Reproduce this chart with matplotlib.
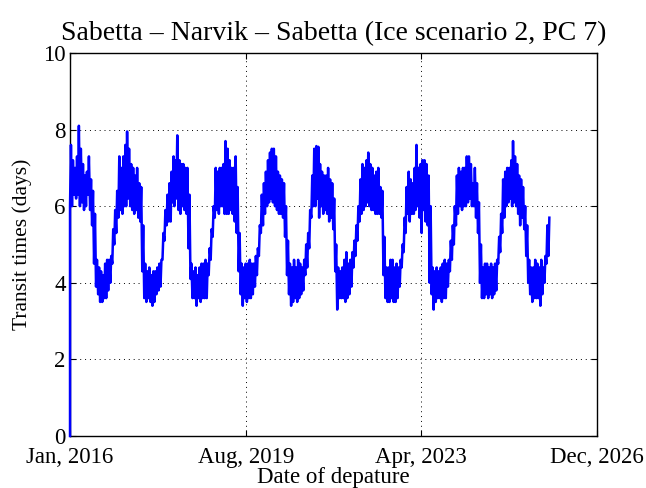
import matplotlib
matplotlib.use("Agg")
import matplotlib.pyplot as plt
import numpy as np

# half-monthly band of the daily transit times
# (lower edge, upper edge), starting on the 1st and 16th of each month
lo_2016 = [6.0, 6.0, 6.3, 6.2, 6.3, 6.0, 6.1, 5.9, 6.0, 6.3, 5.9, 5.5,
           4.5, 3.9, 3.7, 3.5, 3.5, 3.6, 3.6, 3.8, 4.0, 4.5, 5.0, 5.3]
hi_2016 = [7.6, 7.2, 7.0, 7.3, 8.1, 7.5, 7.1, 6.8, 6.9, 7.3, 6.7, 6.4,
           5.8, 4.6, 4.4, 4.3, 4.2, 4.5, 4.6, 4.6, 4.7, 5.4, 5.9, 6.4]
lo_2017 = [5.7, 5.9, 5.8, 6.0, 6.0, 6.2, 6.0, 5.9, 5.8, 5.9, 5.7, 5.6,
           4.3, 3.6, 3.5, 3.6, 3.5, 3.4, 3.5, 3.7, 3.8, 3.9, 4.6, 5.1]
hi_2017 = [7.3, 7.0, 7.3, 7.6, 7.95, 7.5, 7.1, 7.0, 6.8, 7.0, 6.6, 6.5,
           5.5, 4.5, 4.3, 4.4, 4.2, 4.3, 4.3, 4.4, 4.5, 4.6, 5.3, 5.9]
lo_2018 = [5.5, 5.6, 5.6, 6.1, 6.0, 6.2, 5.9, 5.8, 6.0, 5.9, 5.8, 4.9,
           4.1, 3.6, 3.6, 3.4, 3.6, 3.5, 3.6, 3.6, 3.6, 4.2, 4.6, 5.2]
hi_2018 = [6.3, 6.6, 6.9, 7.3, 7.2, 7.85, 7.2, 7.1, 7.1, 7.0, 7.0, 6.3,
           4.5, 4.3, 4.4, 4.2, 4.4, 4.5, 4.5, 4.6, 4.5, 4.9, 5.4, 6.0]
lo_2019 = [5.7, 5.9, 5.8, 6.0, 6.0, 5.8, 5.8, 5.8, 5.9, 5.8, 5.6, 5.3,
           4.3, 3.7, 3.4, 3.6, 3.5, 3.6, 3.6, 3.7, 3.9, 4.2, 4.7, 5.3]
hi_2019 = [7.0, 6.9, 7.0, 7.0, 7.1, 7.7, 7.5, 7.2, 7.0, 7.0, 7.3, 6.5,
           5.3, 4.5, 4.4, 4.5, 4.5, 4.6, 4.5, 4.5, 4.7, 4.9, 5.5, 6.3]
lo_2020 = [5.5, 5.8, 6.0, 6.1, 6.2, 6.1, 6.0, 5.9, 5.8, 5.8, 5.7, 5.2,
           4.2, 3.7, 3.4, 3.5, 3.6, 3.5, 3.6, 3.7, 3.8, 4.2, 4.4, 4.9]
hi_2020 = [6.6, 6.9, 7.2, 7.4, 7.5, 7.5, 7.3, 6.9, 6.8, 6.7, 6.6, 6.0,
           5.1, 4.5, 4.4, 4.6, 4.4, 4.6, 4.5, 4.4, 4.6, 5.0, 5.3, 5.9]
lo_2021 = [5.7, 6.0, 6.0, 6.2, 5.7, 6.0, 5.8, 5.9, 5.8, 5.6, 5.7, 5.4,
           4.3, 3.3, 3.6, 3.6, 3.6, 3.5, 3.6, 3.7, 3.9, 4.4, 4.7, 5.1]
hi_2021 = [6.8, 7.5, 7.57, 7.55, 7.1, 6.9, 6.8, 6.8, 7.0, 6.7, 6.6, 6.2,
           5.0, 4.4, 4.3, 4.4, 4.6, 4.8, 4.5, 4.6, 4.8, 5.1, 5.5, 6.0]
lo_2022 = [5.6, 5.8, 5.9, 6.0, 6.1, 6.0, 5.9, 5.9, 5.8, 5.8, 5.8, 5.7,
           4.2, 3.6, 3.5, 3.5, 3.6, 3.5, 3.5, 3.6, 3.9, 4.4, 4.8, 5.3]
hi_2022 = [6.7, 7.1, 7.0, 7.2, 7.4, 7.1, 7.0, 6.8, 6.9, 7.0, 6.5, 6.4,
           5.2, 4.4, 4.4, 4.6, 4.6, 4.4, 4.5, 4.4, 4.6, 5.0, 5.7, 6.5]
lo_2023 = [5.8, 5.6, 5.8, 5.8, 5.9, 6.0, 5.7, 5.3, 5.9, 5.6, 5.5, 4.0,
           3.7, 3.3, 3.5, 3.6, 3.6, 3.5, 3.6, 3.6, 3.9, 4.3, 4.6, 5.0]
hi_2023 = [6.9, 6.7, 6.6, 7.0, 7.6, 7.0, 7.1, 7.2, 7.2, 7.1, 6.8, 6.0,
           4.4, 4.3, 4.4, 4.3, 4.4, 4.5, 4.6, 4.5, 4.6, 5.1, 5.5, 6.0]
lo_2024 = [5.5, 5.8, 6.0, 5.9, 6.0, 6.0, 6.1, 6.2, 6.0, 6.0, 5.7, 5.3,
           4.0, 3.6, 3.6, 3.7, 3.6, 3.7, 3.6, 3.7, 3.8, 4.5, 4.8, 5.3]
hi_2024 = [6.8, 7.0, 6.9, 7.0, 7.0, 7.3, 7.3, 7.1, 6.6, 7.0, 6.6, 6.1,
           5.0, 4.4, 4.5, 4.5, 4.4, 4.5, 4.4, 4.5, 4.6, 5.2, 5.8, 6.7]
lo_2025 = [5.7, 6.0, 6.1, 6.2, 6.0, 6.1, 6.0, 5.8, 5.5, 5.7, 5.4, 4.7,
           4.0, 3.7, 3.5, 3.6, 3.6, 3.6, 3.4, 3.7, 4.0, 4.5, 4.7]
hi_2025 = [6.9, 7.0, 7.0, 7.2, 7.7, 7.3, 7.1, 6.8, 6.7, 6.5, 6.0, 5.5,
           4.6, 4.4, 4.4, 4.6, 4.5, 4.4, 4.6, 4.4, 4.7, 5.5, 5.7]

years = list(range(2016, 2026))
lows = [lo_2016, lo_2017, lo_2018, lo_2019, lo_2020,
        lo_2021, lo_2022, lo_2023, lo_2024, lo_2025]
highs = [hi_2016, hi_2017, hi_2018, hi_2019, hi_2020,
         hi_2021, hi_2022, hi_2023, hi_2024, hi_2025]
first_value = 0.0

x_start = np.datetime64("2016-01-01")
x_span_days = 3990
tick_labels = ["Jan, 2016", "Aug, 2019", "Apr, 2023", "Dec, 2026"]


def build_series():
    dates = [x_start]
    values = [first_value]
    for year, lo, hi in zip(years, lows, highs):
        for k in range(len(lo)):
            month = k // 2 + 1
            day = 1 if k % 2 == 0 else 16
            d = np.datetime64(f"{year}-{month:02d}-{day:02d}")
            dates.append(d)
            values.append(lo[k])
            dates.append(d + np.timedelta64(7, "D"))
            values.append(hi[k])
    return np.array(dates), np.array(values)


plt.rcParams["font.family"] = ["Liberation Serif", "DejaVu Serif"]

fig = plt.figure(figsize=(6.46, 4.88), dpi=100)
ax = fig.add_axes([0.1084, 0.1066, 0.8158, 0.7848])

dates, values = build_series()
ax.plot(dates, values, color="#0000ff", linewidth=1.8, zorder=3, clip_on=False)

x_end = x_start + np.timedelta64(x_span_days, "D")
ticks = [x_start + np.timedelta64(i * x_span_days // 3, "D") for i in range(4)]
ax.set_xlim(x_start, x_end)
ax.set_xticks(ticks)
ax.set_xticklabels(tick_labels)
ax.set_ylim(0, 10)
ax.set_yticks(np.arange(0, 11, 2))

ax.grid(True, color="black", linestyle=(0, (1, 4)), linewidth=0.7)
ax.tick_params(direction="in", top=True, right=True, length=4)
ax.tick_params(axis="y", labelsize=16.5, pad=3)
ax.tick_params(axis="x", labelsize=16.5, pad=8)
for s in ax.spines.values():
    s.set_linewidth(1.0)

ax.set_title("Sabetta \u2013 Narvik \u2013 Sabetta (Ice scenario 2, PC 7)",
             fontsize=20, pad=9)
ax.set_xlabel("Date of depature", fontsize=16.5, labelpad=-1)
ax.set_ylabel("Transit times (days)", fontsize=15.5, labelpad=8)

fig.savefig("out.png", dpi=100)
